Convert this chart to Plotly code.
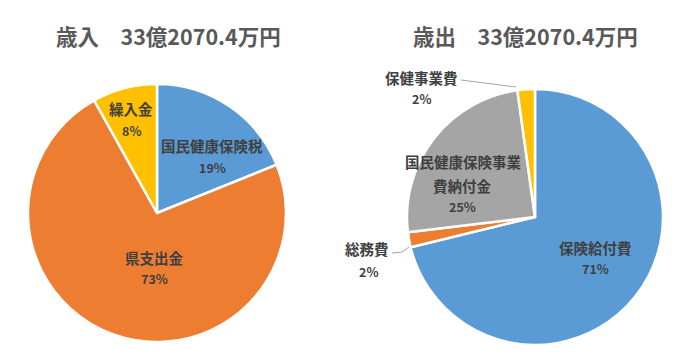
import plotly.graph_objects as go

# ---- data ----
rev_title = "歳入　33億2070.4万円"
exp_title = "歳出　33億2070.4万円"

rev_labels = ["国民健康保険税", "県支出金", "繰入金"]
rev_values = [18.9, 73.0, 8.1]
rev_colors = ["#5B9BD5", "#ED7D31", "#FFC000"]

exp_labels = ["保険給付費", "総務費", "国民健康保険事業費納付金", "保健事業費"]
exp_values = [71.2, 1.9, 24.7, 2.2]
exp_colors = ["#5B9BD5", "#ED7D31", "#A5A5A5", "#FFC000"]

OFF = 8  # page body margin
W, H = 700 - OFF, 361 - OFF


def px(x):
    return (x - OFF) / W


def py(y):
    return 1 - (y - OFF) / H


def pct(vals):
    s = sum(vals)
    return [f"{round(v / s * 100)}%" for v in vals]


fig = go.Figure()

fig.add_trace(go.Pie(
    labels=rev_labels, values=rev_values, sort=False, direction="clockwise", rotation=0,
    marker=dict(colors=rev_colors, line=dict(color="white", width=2.5)),
    textinfo="none", hoverinfo="label+percent", showlegend=False,
    domain=dict(x=[px(28), px(286)], y=[py(342), py(84)]),
))
fig.add_trace(go.Pie(
    labels=exp_labels, values=exp_values, sort=False, direction="clockwise", rotation=0,
    marker=dict(colors=exp_colors, line=dict(color="white", width=2.5)),
    textinfo="none", hoverinfo="label+percent", showlegend=False,
    domain=dict(x=[px(407), px(663)], y=[py(345), py(89)]),
))

FONT = "Noto Sans CJK JP"
LC = "#404040"
ann = []


def add(text, x, y, size=14.5, color=LC):
    ann.append(dict(text=f"<b>{text}</b>", x=px(x), y=py(y), xref="paper", yref="paper",
                    showarrow=False, xanchor="center", yanchor="middle",
                    font=dict(family=FONT, size=size, color=color)))


add(rev_title, 168, 36, size=21.5, color="#595959")
add(exp_title, 525, 36, size=21.5, color="#595959")

rp = pct(rev_values)
add(rev_labels[0], 212, 145)
add(rp[0], 212, 167, size=12.5)
add(rev_labels[1], 154, 257)
add(rp[1], 154, 278, size=12.5)
add(rev_labels[2], 131, 108)
add(rp[2], 131, 130, size=12.5)

ep = pct(exp_values)
add(exp_labels[0], 595, 247)
add(ep[0], 595, 268, size=12.5)
add(exp_labels[2][:8], 463, 161)
add(exp_labels[2][8:], 462, 185)
add(ep[2], 462, 207, size=12.5)
add(exp_labels[1], 367, 248)
add(ep[1], 368, 271, size=12.5)
add(exp_labels[3], 421, 77)
add(ep[3], 421, 98, size=12.5)

shapes = [
    dict(type="line", xref="paper", yref="paper", x0=px(461), y0=py(80), x1=px(516), y1=py(87),
         line=dict(color="#A6A6A6", width=1)),
    dict(type="line", xref="paper", yref="paper", x0=px(392), y0=py(253), x1=px(402), y1=py(252),
         line=dict(color="#A6A6A6", width=1)),
    dict(type="line", xref="paper", yref="paper", x0=px(402), y0=py(252), x1=px(409), y1=py(247),
         line=dict(color="#A6A6A6", width=1)),
]

fig.update_layout(
    width=W, height=H, margin=dict(l=0, r=0, t=0, b=0),
    paper_bgcolor="white", plot_bgcolor="white",
    annotations=ann, shapes=shapes,
)

fig.write_html("out.html")
